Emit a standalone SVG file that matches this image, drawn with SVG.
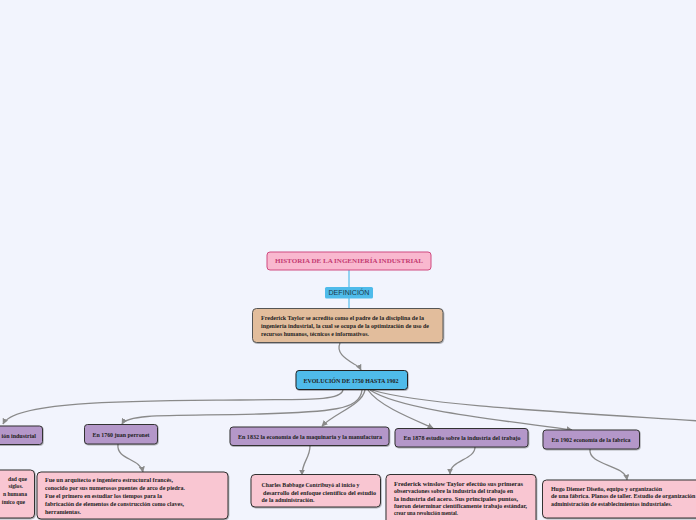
<svg xmlns="http://www.w3.org/2000/svg" width="696" height="520" viewBox="0 0 696 520">
<defs>
<marker id="arr" viewBox="0 0 10 10" refX="9" refY="5" markerWidth="6" markerHeight="6" orient="auto-start-reverse" markerUnits="userSpaceOnUse">
<path d="M0,0 L10,5 L0,10 z" fill="#8a8a8a"/>
</marker>
<filter id="sh" x="-10%" y="-20%" width="120%" height="150%">
<feDropShadow dx="0.6" dy="0.8" stdDeviation="0.5" flood-color="#000" flood-opacity="0.35"/>
</filter>
</defs>
<style>
.t{font-family:"Liberation Serif","Times New Roman",serif;font-weight:bold;fill:#222;}
.s{font-size:5.6px;}
.p{font-size:6px;}
.purple{fill:#b497c9;stroke:#333;stroke-width:1;filter:url(#sh);}
.pink{fill:#f9c6d2;stroke:#333;stroke-width:1;filter:url(#sh);}
.conn{fill:none;stroke:#8a8a8a;stroke-width:1.3;}
.blue{fill:none;stroke:#5ec2ee;stroke-width:1.3;}
</style>
<rect width="696" height="520" fill="#f2f4fd"/>

<g id="connectors">
<path class="blue" d="M349,270 L349,287"/>
<path class="blue" d="M349,298 L349,309"/>
<path class="conn" d="M340,343 C336,352 344,358 354,364 C358,366 360,368 361,370" marker-end="url(#arr)"/>
<path class="conn" d="M343,390 C340,402 300,399 240,400 C140,401 15,400 3,424" marker-end="url(#arr)"/>
<path class="conn" d="M362,390 C360,410 330,412 260,414 C180,416 128,413 122,424" marker-end="url(#arr)"/>
<path class="conn" d="M365,390 C362,405 335,413 322,426" marker-end="url(#arr)"/>
<path class="conn" d="M368,390 C378,405 410,418 433,428" marker-end="url(#arr)"/>
<path class="conn" d="M370,390 C400,410 500,420 572,430" marker-end="url(#arr)"/>
<path class="conn" d="M372,390 C420,405 560,412 700,421"/>
<path class="conn" d="M118,444 C116,460 140,458 143,472" marker-end="url(#arr)"/>
<path class="conn" d="M310,446 C310,458 302,462 302,475" marker-end="url(#arr)"/>
<path class="conn" d="M475,447 C475,460 450,460 450,474" marker-end="url(#arr)"/>
<path class="conn" d="M590,449 C588,466 625,464 627,480" marker-end="url(#arr)"/>
</g>

<g id="title">
<rect x="267" y="252" width="164" height="18" rx="3" fill="#f9b8cf" stroke="#d04a80" stroke-width="1"/>
<text x="349" y="263" text-anchor="middle" font-family="Liberation Serif, serif" font-weight="bold" font-size="6" fill="#c43a72" textLength="148" lengthAdjust="spacingAndGlyphs">HISTORIA DE LA INGENIERÍA INDUSTRIAL</text>
</g>

<g id="definicion">
<rect x="325" y="287" width="48" height="11.5" rx="1.5" fill="#4fbbea"/>
<text x="349" y="295" text-anchor="middle" font-family="Liberation Sans, Arial, sans-serif" font-size="6.3" fill="#1d3a4a" textLength="41" lengthAdjust="spacingAndGlyphs">DEFINICIÓN</text>
</g>

<g id="taylor-def">
<rect x="252.5" y="308.5" width="190.5" height="34" rx="4" fill="#e2bd9c" stroke="#555" stroke-width="1" filter="url(#sh)"/>
<text class="t s" x="261" y="320" textLength="163" lengthAdjust="spacingAndGlyphs">Frederick Taylor se acredito como el padre de la disciplina de la</text>
<text class="t s" x="261" y="328" textLength="168" lengthAdjust="spacingAndGlyphs">ingeniería industrial, la cual se ocupa de la optimización de uso de</text>
<text class="t s" x="261" y="336" textLength="108" lengthAdjust="spacingAndGlyphs">recursos humanos, técnicos e informativos.</text>
</g>

<g id="evolucion">
<rect x="296" y="370.5" width="111.5" height="19" rx="3" fill="#4fbbea" stroke="#222" stroke-width="1" filter="url(#sh)"/>
<text class="t" x="351" y="382.5" text-anchor="middle" font-size="5.4" textLength="95" lengthAdjust="spacingAndGlyphs">EVOLUCIÓN DE 1750 HASTA 1902</text>
</g>

<g id="revolucion">
<rect x="-60" y="426" width="102.5" height="18.5" rx="3" class="purple"/>
<text class="t p" x="36" y="437.5" text-anchor="end">ión industrial</text>
</g>

<g id="perronet">
<rect x="84.5" y="424.5" width="73" height="19.5" rx="3" class="purple"/>
<text class="t p" x="121" y="436.5" text-anchor="middle" textLength="57" lengthAdjust="spacingAndGlyphs">En 1760 juan perronet</text>
</g>

<g id="n1832">
<rect x="230" y="427" width="159" height="18.5" rx="3" class="purple"/>
<text class="t p" x="310" y="438.5" text-anchor="middle" textLength="144" lengthAdjust="spacingAndGlyphs">En 1832 la economía de la maquinaria y la manufactura</text>
</g>

<g id="n1878">
<rect x="395" y="428.5" width="133" height="18.5" rx="3" class="purple"/>
<text class="t p" x="462" y="440" text-anchor="middle" textLength="117" lengthAdjust="spacingAndGlyphs">En 1878 estudio sobre la industria del trabajo</text>
</g>

<g id="n1902">
<rect x="543" y="430" width="96.5" height="19" rx="3" class="purple"/>
<text class="t p" x="591" y="441.5" text-anchor="middle" textLength="79" lengthAdjust="spacingAndGlyphs">En 1902 economía de la fabrica</text>
</g>

<g id="left-detail">
<rect x="-60" y="470" width="94.5" height="48" rx="4" class="pink"/>
<text class="t s" x="27" y="481" text-anchor="end">dad que</text>
<text class="t s" x="23" y="488" text-anchor="end">siglos.</text>
<text class="t s" x="27" y="496" text-anchor="end">n humana</text>
<text class="t s" x="25" y="504" text-anchor="end">ímico que</text>
</g>

<g id="perronet-detail">
<rect x="37" y="472" width="191" height="47" rx="4" class="pink"/>
<text class="t s" x="45" y="482" textLength="128" lengthAdjust="spacingAndGlyphs">Fue un arquitecto e ingeniero estructural francés,</text>
<text class="t s" x="45" y="490.3" textLength="140" lengthAdjust="spacingAndGlyphs">conocido por sus numerosos puentes de arco de piedra.</text>
<text class="t s" x="45" y="497.8" textLength="117" lengthAdjust="spacingAndGlyphs">Fue el primero en estudiar los tiempos para la</text>
<text class="t s" x="45" y="506" textLength="139" lengthAdjust="spacingAndGlyphs">fabricación de elementos de construcción como claves,</text>
<text class="t s" x="45" y="513.7" textLength="36" lengthAdjust="spacingAndGlyphs">herramientas.</text>
</g>

<g id="babbage-detail">
<rect x="251" y="474.5" width="129.5" height="32.5" rx="4" class="pink"/>
<text class="t s" x="261.5" y="487" textLength="98" lengthAdjust="spacingAndGlyphs">Charles Babbage Contribuyó al inicio y</text>
<text class="t s" x="263" y="494.5" textLength="113" lengthAdjust="spacingAndGlyphs">desarrollo del enfoque científico del estudio</text>
<text class="t s" x="261.5" y="502" textLength="53" lengthAdjust="spacingAndGlyphs">de la administración.</text>
</g>

<g id="taylor-detail">
<rect x="386" y="474.5" width="150" height="50" rx="4" class="pink"/>
<text class="t s" x="394" y="486" textLength="129" lengthAdjust="spacingAndGlyphs">Frederick winslow Taylor efectúo sus primeras</text>
<text class="t s" x="394" y="493" textLength="119" lengthAdjust="spacingAndGlyphs">observaciones sobre la industria del trabajo en</text>
<text class="t s" x="394" y="500.7" textLength="124" lengthAdjust="spacingAndGlyphs">la industria del acero. Sus principales puntos,</text>
<text class="t s" x="394" y="508" textLength="133" lengthAdjust="spacingAndGlyphs">fueron determinar científicamente trabajo estándar,</text>
<text class="t s" x="394" y="515.3" textLength="64" lengthAdjust="spacingAndGlyphs">crear una revolución mental.</text>
</g>

<g id="hugo-detail">
<rect x="542.5" y="480" width="170" height="38" rx="4" class="pink"/>
<text class="t s" x="551" y="491" textLength="111" lengthAdjust="spacingAndGlyphs">Hugo Diemer Diseño, equipo y organización</text>
<text class="t s" x="551" y="498" textLength="149" lengthAdjust="spacingAndGlyphs">de una fábrica. Planos de taller. Estudio de organización y</text>
<text class="t s" x="551" y="506" textLength="121" lengthAdjust="spacingAndGlyphs">administración de establecimientos industriales.</text>
</g>
</svg>
